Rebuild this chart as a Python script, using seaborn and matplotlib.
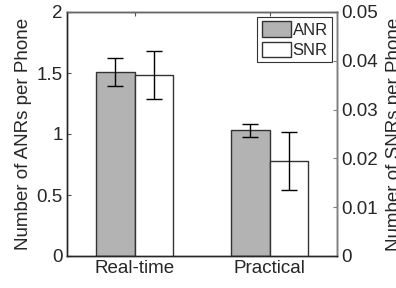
import matplotlib
matplotlib.use("Agg")
import matplotlib.pyplot as plt
import seaborn as sns
import pandas as pd
import numpy as np
from matplotlib.patches import Patch

categories = ["Real-time", "Practical"]
anr_mean = [1.51, 1.03]
anr_err = [0.115, 0.055]
snr_mean = [0.0371, 0.0195]
snr_err = [0.0049, 0.0059]
series = ["ANR", "SNR"]
colors = {"ANR": "#b3b3b3", "SNR": "#ffffff"}

sns.set_style("white")
plt.rcParams["font.family"] = ["Liberation Sans", "DejaVu Sans"]

df_anr = pd.DataFrame({"cat": categories + categories,
                       "series": ["ANR"] * 2 + ["SNR"] * 2,
                       "val": anr_mean + [np.nan, np.nan]})
df_snr = pd.DataFrame({"cat": categories + categories,
                       "series": ["ANR"] * 2 + ["SNR"] * 2,
                       "val": [np.nan, np.nan] + snr_mean})

fig = plt.figure(figsize=(3.96, 2.88), dpi=100)
ax1 = fig.add_axes([67 / 396, 32 / 288, 270 / 396, 244 / 288])
ax2 = ax1.twinx()

edge = "#333333"
sns.barplot(data=df_anr, x="cat", y="val", hue="series", hue_order=series,
            order=categories, palette=colors, width=0.57, edgecolor=edge,
            linewidth=1.0, errorbar=None, legend=False, ax=ax1)
sns.barplot(data=df_snr, x="cat", y="val", hue="series", hue_order=series,
            order=categories, palette=colors, width=0.57, edgecolor=edge,
            linewidth=1.0, errorbar=None, legend=False, ax=ax2)

def add_err(ax, means, errs):
    bars = [p for p in ax.patches if np.isfinite(p.get_height()) and p.get_height() > 0]
    bars.sort(key=lambda p: p.get_x())
    xs = [p.get_x() + p.get_width() / 2 for p in bars]
    ax.errorbar(xs, means, yerr=errs, fmt="none", ecolor="black",
                elinewidth=1.0, capsize=5.5, capthick=1.0, zorder=5)

add_err(ax1, anr_mean, anr_err)
add_err(ax2, snr_mean, snr_err)

for ax in (ax1, ax2):
    ax.set_xlim(-0.5, 1.5)
    ax.set_xlabel("")

ax1.set_ylim(0, 2)
ax1.set_yticks([0, 0.5, 1, 1.5, 2])
ax1.set_yticklabels(["0", "0.5", "1", "1.5", "2"])
ax2.set_ylim(0, 0.05)
ax2.set_yticks([0, 0.01, 0.02, 0.03, 0.04, 0.05])
ax2.set_yticklabels(["0", "0.01", "0.02", "0.03", "0.04", "0.05"])

fs = 13.5
ax1.set_ylabel("Number of ANRs per Phone", fontsize=fs, labelpad=3)
ax2.set_ylabel("Number of SNRs per Phone", fontsize=fs)
ax2.yaxis.set_label_coords((386 - 67) / 270, 0.5)
ax1.tick_params(axis="both", labelsize=fs, direction="in", length=3,
                color="#555555", pad=3, top=True)
ax2.tick_params(axis="y", labelsize=fs, direction="in", length=3,
                color="#808080", pad=3)

for ax in (ax1, ax2):
    for s in ax.spines.values():
        s.set_visible(True)
        s.set_linewidth(1.0)
ax1.spines["left"].set_color("#262626")
ax1.spines["bottom"].set_color("#262626")
ax2.spines["right"].set_color("#808080")
ax2.spines["top"].set_color("#666666")
ax2.spines["left"].set_color("#262626")
ax2.spines["bottom"].set_color("#262626")

handles = [Patch(facecolor=colors[s], edgecolor=edge, linewidth=1.0, label=s) for s in series]
leg = ax2.legend(handles=handles, loc="upper right", fontsize=12, frameon=True,
                 fancybox=False, edgecolor="#333333", framealpha=1,
                 borderaxespad=0.3, handlelength=1.75, handleheight=1.05,
                 handletextpad=0.12, labelspacing=0.25, borderpad=0.25)
leg.get_frame().set_linewidth(0.8)

fig.savefig("out.png", dpi=100)
